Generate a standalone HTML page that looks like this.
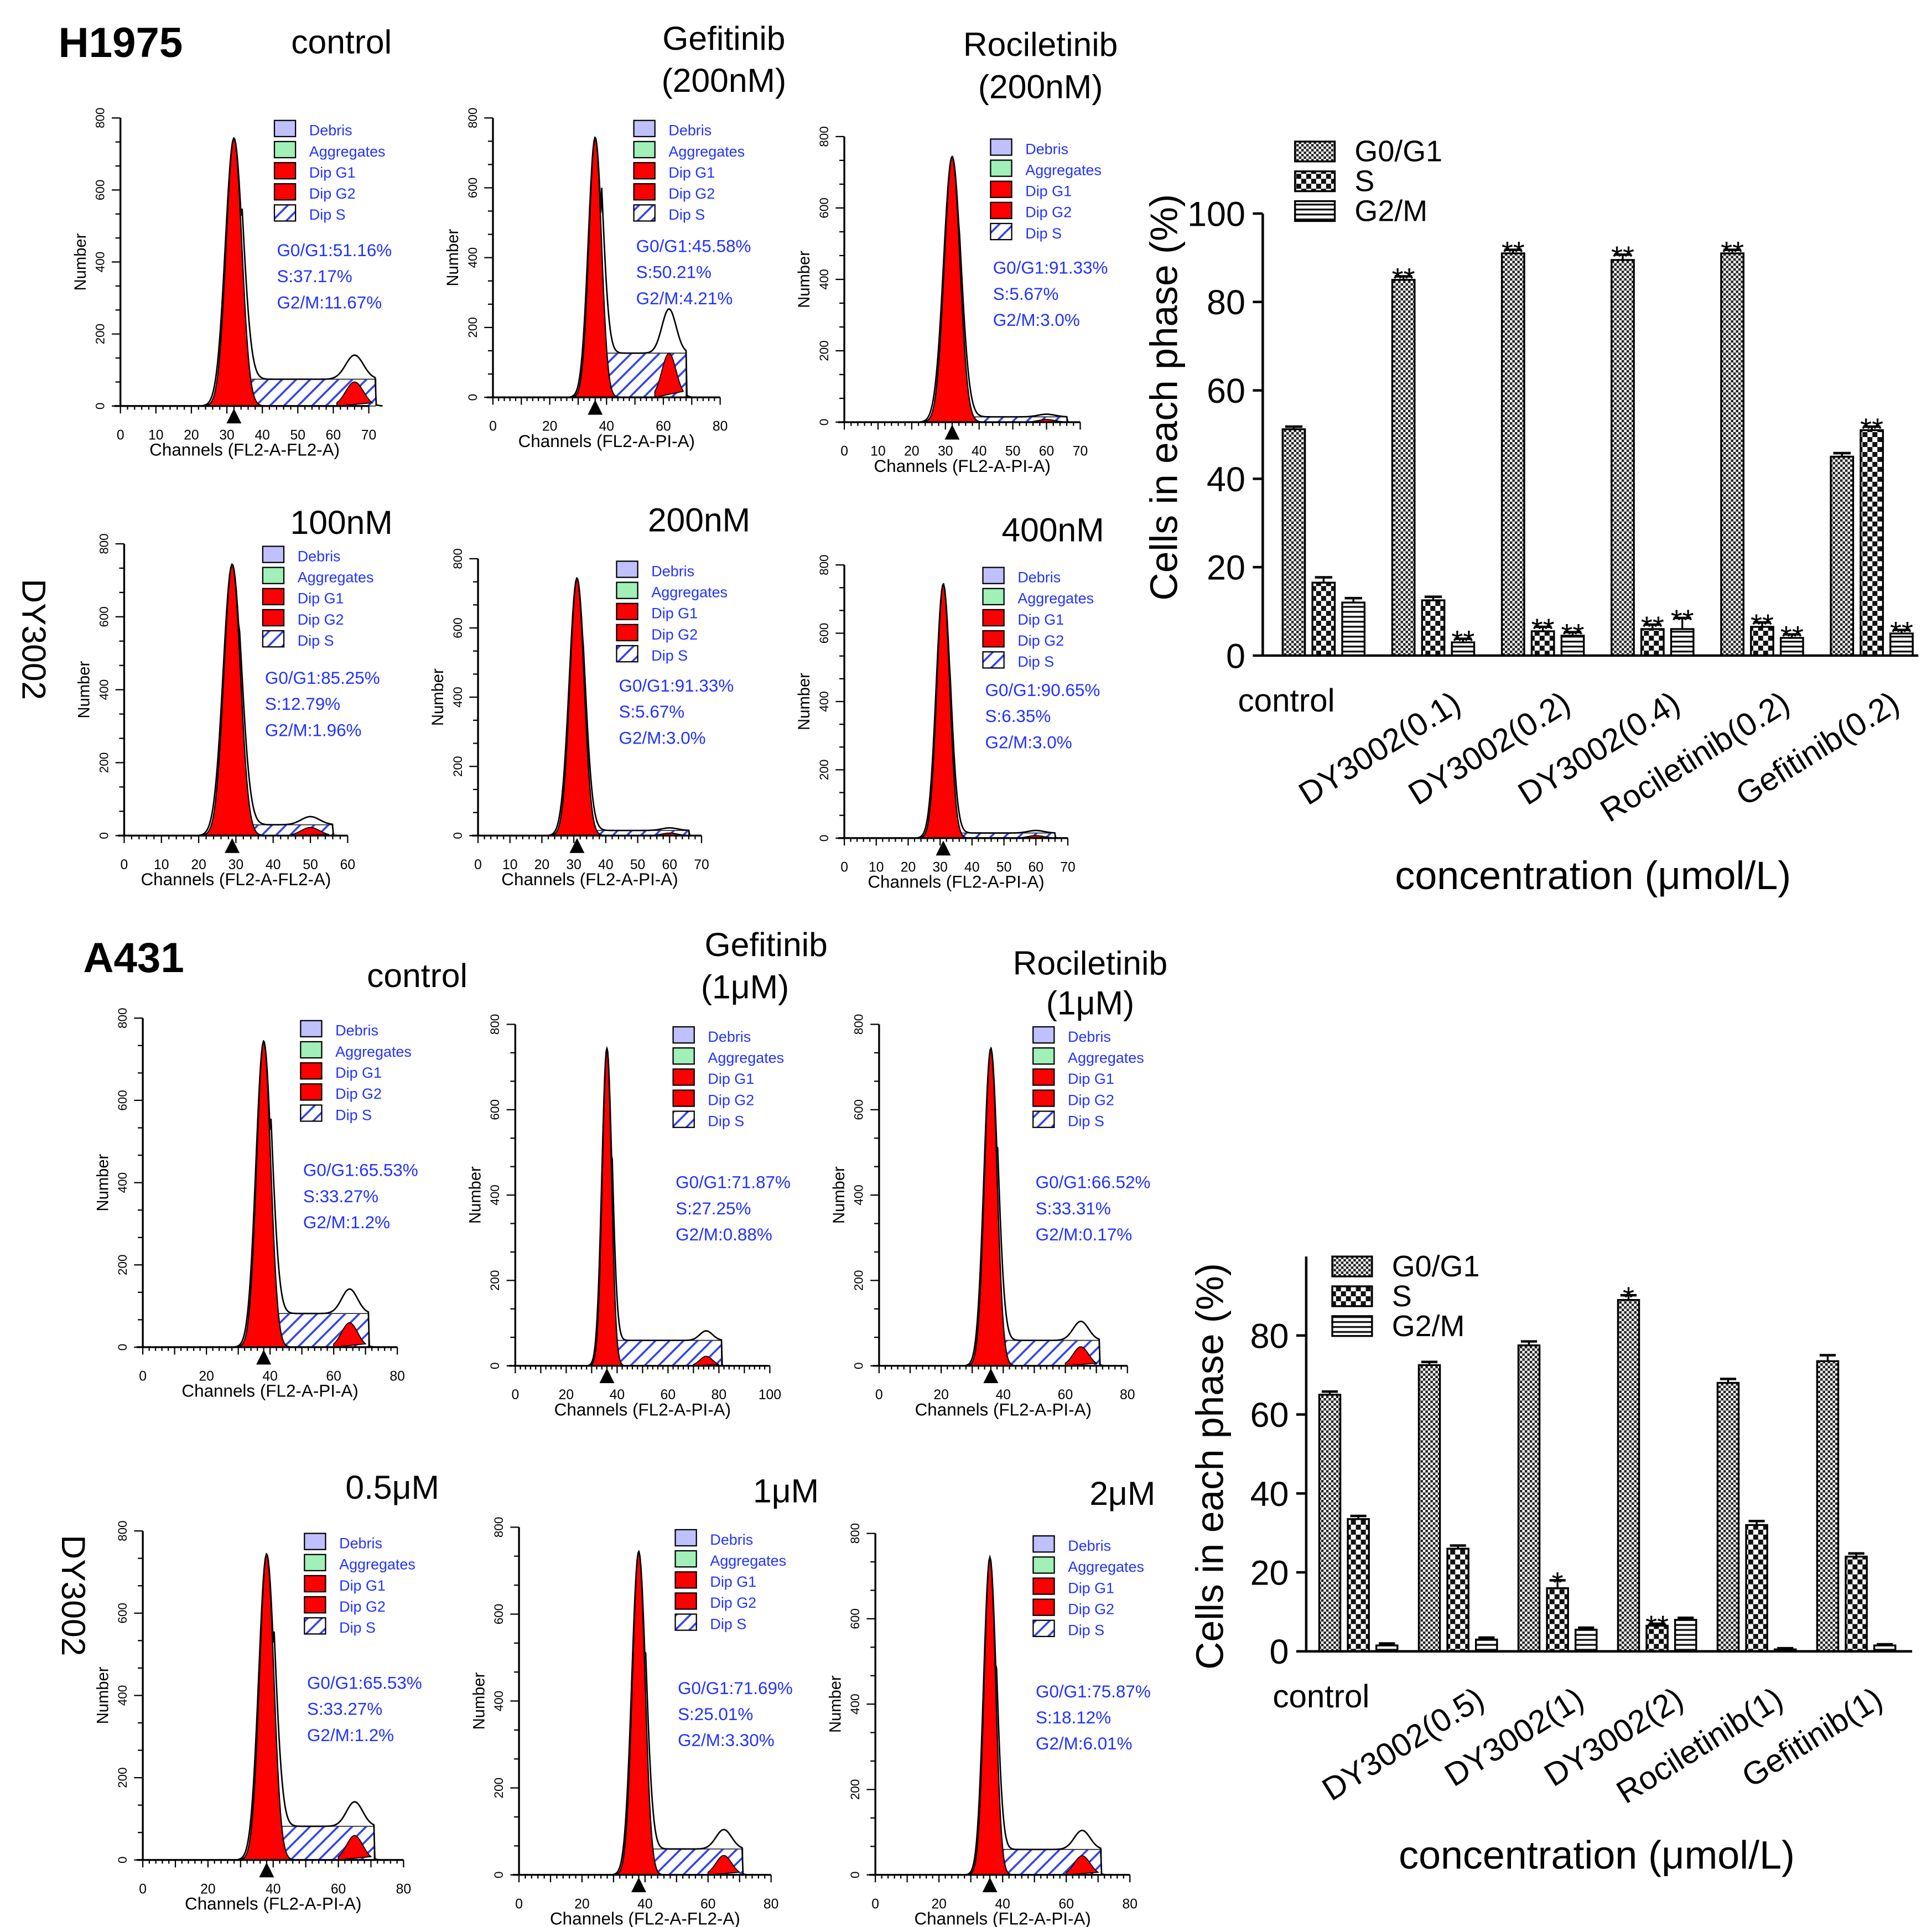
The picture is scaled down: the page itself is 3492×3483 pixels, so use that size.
<!DOCTYPE html>
<html><head><meta charset="utf-8"><style>
html,body{margin:0;padding:0;background:#fff;}
svg{display:block;}
text{font-family:"Liberation Sans",sans-serif;}
</style></head><body>
<svg id="fig" width="3492" height="3483" viewBox="0 0 1556 1552" xmlns="http://www.w3.org/2000/svg">
<defs>
<pattern id="pG1" width="4" height="4" patternUnits="userSpaceOnUse"><rect width="4" height="4" fill="#fff"/><rect width="2" height="2" fill="#222"/><rect x="2" y="2" width="2" height="2" fill="#222"/></pattern>
<pattern id="pS" width="8" height="8" patternUnits="userSpaceOnUse"><rect width="8" height="8" fill="#fff"/><rect width="4" height="4" fill="#111"/><rect x="4" y="4" width="4" height="4" fill="#111"/></pattern>
<pattern id="pG2" width="4" height="4" patternUnits="userSpaceOnUse"><rect width="4" height="4" fill="#fff"/><rect width="4" height="1.5" fill="#111"/></pattern>
<pattern id="hatch" width="8" height="8" patternUnits="userSpaceOnUse" patternTransform="rotate(45)"><rect width="8" height="8" fill="#fff"/><rect width="1.6" height="8" fill="#3344ee"/></pattern>
</defs>
<g id="static">
<text x="47" y="46" font-size="34" font-weight="bold">H1975</text>
<text x="275" y="43" font-size="27" text-anchor="middle">control</text>
<text x="583" y="40" font-size="27" text-anchor="middle">Gefitinib</text>
<text x="583" y="74" font-size="27" text-anchor="middle">(200nM)</text>
<text x="838" y="45" font-size="27" text-anchor="middle">Rociletinib</text>
<text x="838" y="79" font-size="27" text-anchor="middle">(200nM)</text>
<text x="275" y="430" font-size="27" text-anchor="middle">100nM</text>
<text x="563" y="428" font-size="27" text-anchor="middle">200nM</text>
<text x="848" y="436" font-size="27" text-anchor="middle">400nM</text>
<text transform="translate(18,515) rotate(90)" font-size="27" text-anchor="middle">DY3002</text>
<text x="67" y="783" font-size="34" font-weight="bold">A431</text>
<text x="336" y="795" font-size="27" text-anchor="middle">control</text>
<text x="617" y="770" font-size="27" text-anchor="middle">Gefitinib</text>
<text x="600" y="804" font-size="27" text-anchor="middle">(1μM)</text>
<text x="878" y="785" font-size="27" text-anchor="middle">Rociletinib</text>
<text x="878" y="817" font-size="27" text-anchor="middle">(1μM)</text>
<text x="316" y="1207" font-size="27" text-anchor="middle">0.5μM</text>
<text x="633" y="1210" font-size="27" text-anchor="middle">1μM</text>
<text x="904" y="1212" font-size="27" text-anchor="middle">2μM</text>
<text transform="translate(50,1285) rotate(90)" font-size="27" text-anchor="middle">DY3002</text>
</g>
<g id="hists"></g>
<g id="bars1"></g>
<g id="bars2"></g>
</svg>
<script>
const NS="http://www.w3.org/2000/svg";
function el(tag,attrs,parent,txt){const e=document.createElementNS(NS,tag);for(const k in attrs)e.setAttribute(k,attrs[k]);if(txt!==undefined)e.textContent=txt;parent.appendChild(e);return e;}

const histPanels=[
 [97,327,200,232,70,32,2.2,0.10,66,0.09],
 [397,320,183,225,80,36,2.2,0.17,62,0.17],
 [680,340,190,230,70,32,2.3,0.02,60,0.01],
 [100,673,180,235,60,29,2.2,0.04,50,0.03],
 [385,673,180,223,70,31,2.2,0.02,60,0.01],
 [680,675,180,220,70,31,2.0,0.02,60,0.01],
 [115,1085,205,265,80,38,2.2,0.11,65,0.08],
 [415,1100,205,275,100,36,1.8,0.08,75,0.03],
 [708,1100,200,275,80,36,2.0,0.08,65,0.06],
 [115,1498,210,265,80,38,2.2,0.11,65,0.08],
 [418,1510,203,280,80,38,2.0,0.08,65,0.06],
 [705,1510,205,275,80,36,1.8,0.08,65,0.06]
];
const histStats=[
 ["G0/G1:51.16%","S:37.17%","G2/M:11.67%"],
 ["G0/G1:45.58%","S:50.21%","G2/M:4.21%"],
 ["G0/G1:91.33%","S:5.67%","G2/M:3.0%"],
 ["G0/G1:85.25%","S:12.79%","G2/M:1.96%"],
 ["G0/G1:91.33%","S:5.67%","G2/M:3.0%"],
 ["G0/G1:90.65%","S:6.35%","G2/M:3.0%"],
 ["G0/G1:65.53%","S:33.27%","G2/M:1.2%"],
 ["G0/G1:71.87%","S:27.25%","G2/M:0.88%"],
 ["G0/G1:66.52%","S:33.31%","G2/M:0.17%"],
 ["G0/G1:65.53%","S:33.27%","G2/M:1.2%"],
 ["G0/G1:71.69%","S:25.01%","G2/M:3.30%"],
 ["G0/G1:75.87%","S:18.12%","G2/M:6.01%"]
];
const xLabels=["Channels (FL2-A-FL2-A)","Channels (FL2-A-PI-A)","Channels (FL2-A-PI-A)","Channels (FL2-A-FL2-A)","Channels (FL2-A-PI-A)","Channels (FL2-A-PI-A)","Channels (FL2-A-PI-A)","Channels (FL2-A-PI-A)","Channels (FL2-A-PI-A)","Channels (FL2-A-PI-A)","Channels (FL2-A-FL2-A)","Channels (FL2-A-PI-A)"];
const legendNames=["Debris","Aggregates","Dip G1","Dip G2","Dip S"];
const legendFills=["#c0c0ff","#a0f0b8","#ff0000","#ff0000","url(#hatch)"];

const H=document.getElementById('hists');
histPanels.forEach((p,i)=>{
 const [ax,ay,w,h,cmax,pk,sd,sl,g2c,g2l]=p;
 const g=el('g',{},H);
 
 
 const X=c=>ax+c/cmax*w, Y=f=>ay-f*h*0.93;
 let sp=`M${X(pk+3)},${ay}`;
 for(let c=pk+3;c<=g2c+6;c+=1)sp+=` L${X(c)},${Y(sl)}`;
 sp+=` L${X(g2c+6)},${ay} Z`;
 el('path',{d:sp,fill:'url(#hatch)',stroke:'#333','stroke-width':0.8},g);
 let g2p=`M${X(g2c-5)},${ay}`;
 for(let c=g2c-5;c<=g2c+5;c+=0.5)g2p+=` L${X(c)},${Y(g2l*Math.exp(-((c-g2c)**2)/(2*2.5*2.5)))}`;
 g2p+=' Z';
 el('path',{d:g2p,fill:'#ff0000',stroke:'#000','stroke-width':0.8},g);
 let rp=`M${X(pk-4*sd)},${ay}`;
 for(let c=pk-4*sd;c<=pk+4*sd;c+=0.2)rp+=` L${X(c)},${Y(Math.exp(-((c-pk)**2)/(2*sd*sd)))}`;
 rp+=' Z';
 el('path',{d:rp,fill:'#ff0000',stroke:'#000','stroke-width':1},g);
 let op=`M${X(pk-4*sd)},${ay}`;
 for(let c=pk-4*sd;c<=g2c+8;c+=0.3){const v=Math.exp(-((c-pk)**2)/(2*(sd*1.1)**2))+(c>pk+2&&c<g2c+6?sl:0)+g2l*Math.exp(-((c-g2c)**2)/12.5);op+=` L${X(c)},${Y(v)}`;}
 el('path',{d:op,fill:'none',stroke:'#000','stroke-width':1.2},g);
 el('path',{d:`M${X(pk)-6},${ay+14} L${X(pk)+6},${ay+14} L${X(pk)},${ay+2} Z`,fill:'#000'},g);
 el('line',{x1:ax,y1:ay,x2:ax,y2:ay-h,stroke:'#000','stroke-width':1.5},g);
 el('line',{x1:ax-5,y1:ay,x2:ax+w,y2:ay,stroke:'#000','stroke-width':1.5},g);
 for(let c=0;c<=cmax;c+=2){const L=c%10===0?6:3;el('line',{x1:X(c),y1:ay,x2:X(c),y2:ay+L,stroke:'#000','stroke-width':1},g);}
 for(let c=0;c<=cmax;c+=(cmax>=80?20:10)){el('text',{x:X(c),y:ay+27,'font-size':11,'text-anchor':'middle'},g,String(c));}
 for(let k=0;k<=12;k++){const yy=ay-k*h/12;el('line',{x1:ax-(k%3===0?7:4),y1:yy,x2:ax,y2:yy,stroke:'#000','stroke-width':1},g);}
 for(let k=0;k<=4;k++){el('text',{transform:`translate(${ax-13},${ay-k*h/4}) rotate(-90)`,'font-size':10,'text-anchor':'middle'},g,String(k*200));}
 el('text',{transform:`translate(${ax-28},${ay-h/2}) rotate(-90)`,'font-size':13,'text-anchor':'middle'},g,'Number');
 el('text',{x:ax+w/2,y:ay+40,'font-size':14,'text-anchor':'middle'},g,xLabels[i]);
 const lx=ax+w*0.62, ly=ay-h+2;
 legendNames.forEach((n,j)=>{
  el('rect',{x:lx,y:ly+j*17,width:17,height:13,fill:legendFills[j],stroke:'#000','stroke-width':1},g);
  el('text',{x:lx+28,y:ly+j*17+12,'font-size':12,fill:'#2233ff'},g,n);
 });
 histStats[i].forEach((s,j)=>{el('text',{x:ax+w*0.63,y:ay-h*0.52+j*21,'font-size':14,fill:'#2233ff'},g,s);});
});

const cats1=["control","DY3002(0.1)","DY3002(0.2)","DY3002(0.4)","Rociletinib(0.2)","Gefitinib(0.2)"];
const g1Vals1=[51.2,85,91,89.5,91,45];
const sVals1=[16.5,12.5,5.5,6,6.5,51];
const g2Vals1=[12,3,4.5,6,4,5];
const errs1=[[0.6,1.2,1],[0.8,0.8,0.8],[0.8,1,0.8],[1.2,1,2.5],[0.8,1,0.8],[0.8,0.8,0.8]];
const sig1=[["","",""],["**","","**"],["**","**","**"],["**","**","**"],["**","**","**"],["","**","**"]];
const ticks1=[0,20,40,60,80,100];

const cats2=["control","DY3002(0.5)","DY3002(1)","DY3002(2)","Rociletinib(1)","Gefitinib(1)"];
const g1Vals2=[65,72.5,77.5,89,68,73.5];
const sVals2=[33.5,26,16,6.5,32,24];
const g2Vals2=[1.5,3,5.5,8,0.5,1.5];
const errs2=[[0.8,0.8,0.5],[0.8,0.8,0.5],[1,2,0.5],[1.2,0.5,0.5],[1,1,0.3],[1.5,0.8,0.3]];
const sig2=[["","",""],["","",""],["","*",""],["*","**",""],["","",""],["","",""]];
const ticks2=[0,20,40,60,80];

function barChart(gid,cfg,cats,series,errs,sig,ticks){
 const g=document.getElementById(gid);
 const {x0,x1,y0,yTop,ymax,grpStart,grpStep,bw}=cfg;
 const Y=v=>y0-v/ymax*(y0-yTop);
 const X=(ci,si)=>grpStart+ci*grpStep+si*(bw+6);
 const fills=['url(#pG1)','url(#pS)','url(#pG2)'];
 cats.forEach((c,ci)=>{
  series.forEach((vals,si)=>{
   const v=vals[ci], x=X(ci,si);
   const r=el('rect',{x:x-bw/2,y:Y(v),width:bw,height:y0-Y(v),fill:fills[si],stroke:'#000','stroke-width':1.5},g);
   
   
   const e=errs[ci][si];
   el('line',{x1:x,y1:Y(v+e),x2:x,y2:Y(v),stroke:'#000','stroke-width':1.5},g);
   el('line',{x1:x-bw/2+2,y1:Y(v+e),x2:x+bw/2-2,y2:Y(v+e),stroke:'#000','stroke-width':2},g);
   if(sig[ci][si]){const t=el('text',{x:x,y:Y(v+e)+10,'font-size':24,'text-anchor':'middle'},g,sig[ci][si]);}
  });
  const lab=el('text',{transform:`translate(${X(ci,2)},${y0+43}) rotate(-32)`,'font-size':26,'text-anchor':'end'},g,c);
  if(ci===0){lab.setAttribute('transform',`translate(${cfg.ctrlX},${y0+45})`);lab.setAttribute('text-anchor','start');}
  
  
 });
 el('line',{x1:x0,y1:y0,x2:x1,y2:y0,stroke:'#000','stroke-width':2},g);
 el('line',{x1:x0,y1:y0,x2:x0,y2:yTop,stroke:'#000','stroke-width':2},g);
 ticks.forEach(t=>{
  el('line',{x1:x0-8,y1:Y(t),x2:x0,y2:Y(t),stroke:'#000','stroke-width':2},g);
  const tl=el('text',{x:x0-14,y:Y(t)+10,'font-size':28,'text-anchor':'end'},g,String(t));
  
  
 });
 const yt=el('text',{transform:`translate(${cfg.ytx},${(y0+yTop)/2+cfg.ytOff}) rotate(-90)`,'font-size':31,'text-anchor':'middle'},g,'Cells in each phase (%)');
 
 
 const xt=el('text',{x:cfg.xtX,y:cfg.xtY,'font-size':32,'text-anchor':'middle'},g,'concentration (μmol/L)');
 
 
 ['G0/G1','S','G2/M'].forEach((n,j)=>{
  const lg=el('g',{},g);
  
  
  el('rect',{x:cfg.lx,y:cfg.ly+j*24,width:32,height:16,fill:fills[j],stroke:'#000','stroke-width':1.5},lg);
  el('text',{x:cfg.lx+48,y:cfg.ly+j*24+16,'font-size':24},lg,n);
 });
}
barChart('bars1',{x0:1017,x1:1545,y0:528,yTop:172,ymax:100,grpStart:1042,grpStep:88.3,bw:18,ytx:948,ytOff:-30,xtX:1283,xtY:716,lx:1043,ly:114,ctrlX:997},cats1,[g1Vals1,sVals1,g2Vals1],errs1,sig1,ticks1);
barChart('bars2',{x0:1052,x1:1540,y0:1330,yTop:1012,ymax:100,grpStart:1071,grpStep:80.2,bw:17,ytx:985,ytOff:10,xtX:1286,xtY:1505,lx:1073,ly:1012,ctrlX:1025},cats2,[g1Vals2,sVals2,g2Vals2],errs2,sig2,ticks2);
</script>
</body></html>
